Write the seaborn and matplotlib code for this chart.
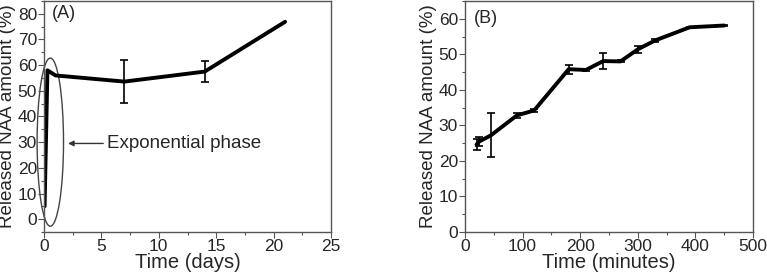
import numpy as np
import pandas as pd
import matplotlib
matplotlib.use("Agg")
import matplotlib.pyplot as plt
from matplotlib.patches import Ellipse
from matplotlib.ticker import AutoMinorLocator
import seaborn as sns

# panel A: release over days
days = [0.05, 0.3, 1.0, 7.0, 14.0, 21.0]
release_days = [5.0, 58.0, 56.0, 53.6, 57.5, 76.9]
err_days = [0.0, 0.0, 0.0, 8.3, 4.2, 0.0]

# panel B: release over minutes
minutes = [20, 25, 45, 90, 120, 180, 210, 240, 270, 300, 330, 390, 450]
release_min = [24.6, 25.5, 27.2, 32.8, 34.2, 45.8, 45.6, 48.1, 48.0, 51.4, 53.9, 57.6, 58.1]
err_min = [1.5, 1.2, 6.2, 0.8, 0.4, 1.3, 0.3, 2.2, 0.3, 1.0, 0.5, 0.2, 0.2]

sns.set_style("ticks")
plt.rcParams["font.family"] = ["Liberation Sans", "DejaVu Sans"]

dfa = pd.DataFrame({"t": days, "y": release_days, "e": err_days})
dfb = pd.DataFrame({"t": minutes, "y": release_min, "e": err_min})

fig = plt.figure(figsize=(7.67, 2.75), dpi=100)
axa = fig.add_axes([44/767, 1-232/275, (331-44)/767, (232-1)/275])
axb = fig.add_axes([465/767, 1-232/275, (753-465)/767, (232-1)/275])

for ax, df in [(axa, dfa), (axb, dfb)]:
    sns.lineplot(data=df, x="t", y="y", ax=ax, color="black", linewidth=2.8, sort=False)
    m = df["e"] > 0
    ax.errorbar(df["t"][m], df["y"][m], yerr=df["e"][m], fmt="none",
                ecolor="black", elinewidth=1.2, capsize=3, capthick=1.2)
    for s in ax.spines.values():
        s.set_color("#555555")
        s.set_linewidth(1.0)
    ax.tick_params(direction="out", length=4, width=0.8, color="#555555",
                   labelsize=12.5, pad=1, top=False, right=False)
    ax.tick_params(which="minor", direction="out", length=2, width=0.8, color="#555555")
    ax.xaxis.set_minor_locator(AutoMinorLocator(2))
    ax.yaxis.set_minor_locator(AutoMinorLocator(2))
    ax.set_ylabel("Released NAA amount (%)", fontsize=13.5, labelpad=1)

axa.set_xlim(0, 25)
axa.set_ylim(-5, 85)
axa.set_xticks([0, 5, 10, 15, 20, 25])
axa.set_yticks(np.arange(0, 81, 10))
axa.set_xlabel("Time (days)", fontsize=14.5, labelpad=-1)
axa.text(0.7, 80, "(A)", fontsize=13, va="center", ha="left")
axa.add_patch(Ellipse((0.55, 30), 2.3, 65.5, fill=False, edgecolor="#444444",
                      linewidth=1.0, clip_on=False))
axa.annotate("", xy=(1.85, 29.5), xytext=(5.4, 29.5),
             arrowprops=dict(arrowstyle="-|>", color="#333333", lw=1.0, mutation_scale=8))
axa.text(5.5, 29.5, "Exponential phase", fontsize=13.5, va="center", ha="left")

axb.set_xlim(0, 500)
axb.set_ylim(0, 65)
axb.set_xticks(np.arange(0, 501, 100))
axb.set_yticks(np.arange(0, 61, 10))
axb.set_xlabel("Time (minutes)", fontsize=14.5, labelpad=-1)
axb.text(15, 60, "(B)", fontsize=13, va="center", ha="left")

fig.savefig("out.png", dpi=100)
